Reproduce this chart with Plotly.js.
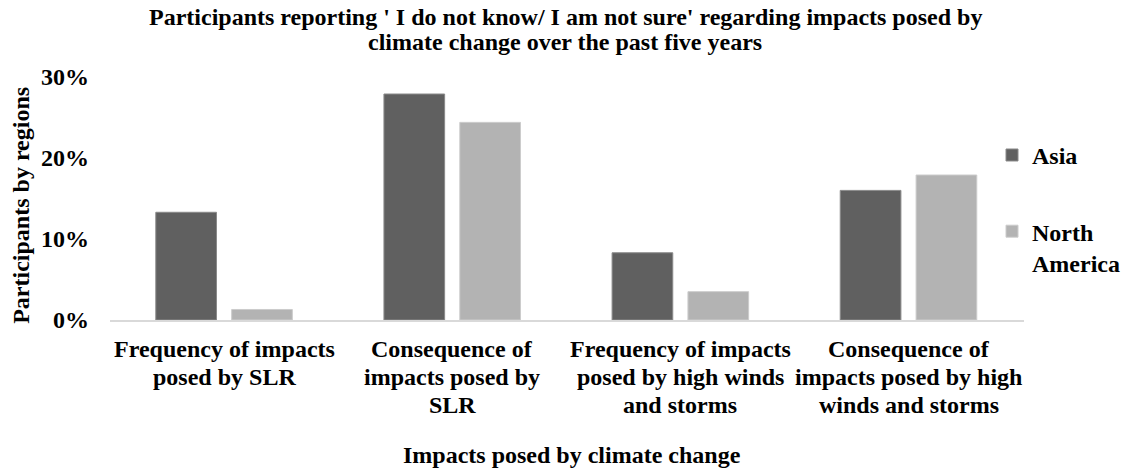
<!DOCTYPE html>
<html>
<head>
<meta charset="utf-8">
<script src="https://cdn.plot.ly/plotly-3.0.1.min.js"></script>
<style>
  html, body { margin: 0; padding: 0; background: #ffffff; }
  #chart { width: 1128px; height: 474px; }
</style>
</head>
<body>
<div id="chart"></div>
<script>
// Impact categories (x axis); each entry is the list of label lines
const categoryLines = [
  ["Frequency of impacts", "posed by SLR"],
  ["Consequence of", "impacts posed by", "SLR"],
  ["Frequency of impacts", "posed by high winds", "and storms"],
  ["Consequence of", "impacts posed by high", "winds and storms"]
];
const categories = categoryLines.map(lines => lines.join(" "));

// Share of participants answering "I do not know / I am not sure"
const asiaValues = [0.133, 0.279, 0.083, 0.160];
const northAmericaValues = [0.013, 0.244, 0.035, 0.179];

const yTickValues = [0, 0.1, 0.2, 0.3];
const yTickLabels = ["0%", "10%", "20%", "30%"];

const titleLines = [
  "Participants reporting ' I do not know/ I am not sure' regarding impacts posed by",
  "climate change over the past five years"
];
const xTitle = "Impacts posed by climate change";
const yTitle = "Participants by regions";

const FONT = "Liberation Serif, Times New Roman, serif";
const SIZE = 24;
const LINE = 28;

const textFont = { family: FONT, size: SIZE, color: "#000000", weight: "bold" };

const traces = [
  {
    type: "bar",
    name: "Asia",
    x: categories,
    y: asiaValues,
    marker: { color: "#606060", line: { color: "#8a8a8a", width: 1 } },
    legendgroup: "asia",
    hoverinfo: "y"
  },
  {
    type: "bar",
    name: "North<br>America",
    x: categories,
    y: northAmericaValues,
    marker: { color: "#b3b3b3", line: { color: "#cccccc", width: 1 } },
    legendgroup: "na",
    hoverinfo: "y"
  }
];

// Category labels, one annotation per line for tight line spacing
const annotations = [];
categoryLines.forEach((lines, ci) => {
  lines.forEach((line, li) => {
    annotations.push({
      text: line,
      x: categories[ci], xref: "x",
      y: 0, yref: "y",
      xanchor: "center", yanchor: "middle",
      yshift: -29 - LINE * li,
      showarrow: false,
      font: textFont
    });
  });
});

// Chart title (two lines)
titleLines.forEach((line, li) => {
  annotations.push({
    text: line,
    x: 0.498, xref: "paper",
    y: 1, yref: "paper",
    xanchor: "center", yanchor: "middle",
    yshift: 60 - 25 * li,
    showarrow: false,
    font: textFont
  });
});

// Axis titles
annotations.push({
  text: xTitle,
  x: 0.506, xref: "paper",
  y: 0, yref: "paper",
  xanchor: "center", yanchor: "middle",
  yshift: -135,
  showarrow: false,
  font: textFont
});
annotations.push({
  text: yTitle,
  x: 0, xref: "paper",
  y: 0.47, yref: "paper",
  xanchor: "center", yanchor: "middle",
  xshift: -89,
  textangle: -90,
  showarrow: false,
  font: textFont
});

const layout = {
  width: 1128,
  height: 474,
  paper_bgcolor: "#ffffff",
  plot_bgcolor: "#ffffff",
  margin: { l: 110, r: 104, t: 77, b: 154, autoexpand: false },
  font: textFont,
  barmode: "group",
  bargap: 0.335,
  bargroupgap: 0.2,
  xaxis: {
    type: "category",
    showgrid: false,
    zeroline: false,
    showline: true,
    linecolor: "#d9d9d9",
    linewidth: 2,
    ticks: "",
    showticklabels: false,
    automargin: false
  },
  yaxis: {
    range: [0, 0.3],
    tickvals: yTickValues,
    ticktext: yTickLabels,
    showgrid: false,
    zeroline: false,
    showline: false,
    ticks: "",
    ticklabelstandoff: 20,
    tickfont: textFont,
    automargin: false
  },
  legend: {
    x: 0.965,
    xanchor: "left",
    y: 0.77,
    yanchor: "top",
    traceorder: "grouped",
    tracegroupgap: 42,
    valign: "top",
    font: textFont,
    bgcolor: "rgba(0,0,0,0)"
  },
  showlegend: true,
  annotations: annotations
};

Plotly.newPlot("chart", traces, layout, { displayModeBar: false, staticPlot: true });
</script>
</body>
</html>
